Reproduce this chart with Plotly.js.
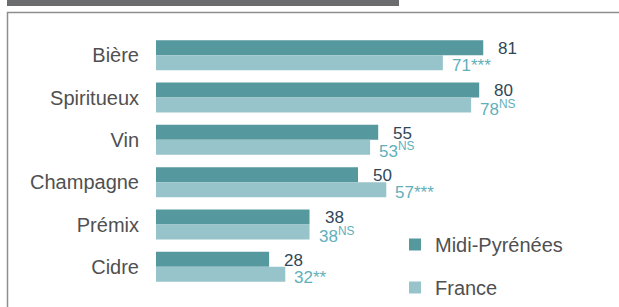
<!DOCTYPE html>
<html>
<head>
<meta charset="utf-8">
<script src="https://cdn.plot.ly/plotly-3.0.1.min.js"></script>
<style>
  html, body { margin: 0; padding: 0; background: #ffffff; }
  #chart { width: 619px; height: 307px; }
</style>
</head>
<body>
<div id="chart"></div>
<script>
// ---- data ----
var categories = ["Bière", "Spiritueux", "Vin", "Champagne", "Prémix", "Cidre"];
var midiValues = [81, 80, 55, 50, 38, 28];
var franceValues = [71, 78, 53, 57, 38, 32];
var franceSig = ["***", "NS", "NS", "***", "NS", "**"];
var seriesNames = ["Midi-Pyrénées", "France"];

// ---- style ----
var midiColor = "#55999f";
var franceColor = "#97c3ca";
var midiTextColor = "#2f4858";
var franceTextColor = "#5fb0bb";
var labelColor = "#505050";
var valueFont = "Liberation Sans Narrow, Arial Narrow, Liberation Sans, Arial, sans-serif";
var mainFont = "Liberation Sans, Helvetica, Arial, sans-serif";

var bargap = 0.29;
var barOffset = (1 - bargap) / 4; // centre of each bar within its group

var traces = [
  {
    type: "bar", orientation: "h", name: seriesNames[0],
    y: categories, x: midiValues,
    marker: { color: midiColor },
    legendgroup: "a", hoverinfo: "x+y"
  },
  {
    type: "bar", orientation: "h", name: seriesNames[1],
    y: categories, x: franceValues,
    marker: { color: franceColor },
    legendgroup: "b", hoverinfo: "x+y"
  }
];

function sigText(s) {
  // asterisks are already raised glyphs; letters go in superscript
  return s.indexOf("*") >= 0 ? s : "<sup>" + s + "</sup>";
}

var annotations = [];
categories.forEach(function (c, i) {
  annotations.push({
    x: midiValues[i], y: i - barOffset, xref: "x", yref: "y",
    text: String(midiValues[i]), showarrow: false,
    xanchor: "left", yanchor: "middle", xshift: 13, yshift: -1,
    font: { family: valueFont, size: 17, color: midiTextColor }
  });
  annotations.push({
    x: franceValues[i], y: i + barOffset, xref: "x", yref: "y",
    text: String(franceValues[i]) + sigText(franceSig[i]), showarrow: false,
    xanchor: "left", yanchor: "middle", xshift: 7, yshift: -3,
    font: { family: valueFont, size: 17, color: franceTextColor }
  });
});

// frame shapes (paper coordinates relative to plot area)
var L = 156, R = 560, T = 34, B = 288;
function px(x) { return (x - L) / (R - L); }
function py(y) { return (B - y) / (B - T); }

var shapes = [
  { type: "rect", xref: "paper", yref: "paper",
    x0: px(7), x1: px(399), y0: py(6), y1: py(-2),
    fillcolor: "#6b6c6e", line: { width: 0 }, layer: "below" },
  { type: "line", xref: "paper", yref: "paper",
    x0: px(7), x1: px(619), y0: py(12.5), y1: py(12.5),
    line: { color: "#8e8e8e", width: 1.5 } },
  { type: "line", xref: "paper", yref: "paper",
    x0: px(7.5), x1: px(7.5), y0: py(12), y1: py(310),
    line: { color: "#8e8e8e", width: 1.5 } }
];

var layout = {
  width: 619, height: 307,
  margin: { l: L, r: 619 - R, t: T, b: 307 - B, pad: 0, autoexpand: false },
  paper_bgcolor: "#ffffff", plot_bgcolor: "#ffffff",
  barmode: "group", bargap: bargap, bargroupgap: 0,
  showlegend: true,
  legend: {
    x: px(395), y: py(225), xanchor: "left", yanchor: "top",
    font: { family: mainFont, size: 20, color: labelColor },
    traceorder: "grouped", tracegroupgap: 14,
    bgcolor: "rgba(0,0,0,0)"
  },
  xaxis: {
    range: [0, 100], visible: false, fixedrange: true
  },
  yaxis: {
    autorange: "reversed", showgrid: false, zeroline: false, showline: false,
    ticks: "", ticklabelstandoff: 16,
    tickfont: { family: mainFont, size: 20, color: labelColor },
    fixedrange: true
  },
  annotations: annotations,
  shapes: shapes,
  font: { family: mainFont }
};

Plotly.newPlot("chart", traces, layout, { displayModeBar: false, staticPlot: true });
</script>
</body>
</html>
